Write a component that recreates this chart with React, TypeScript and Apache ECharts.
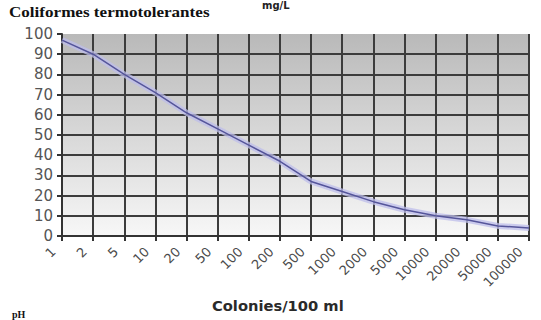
import React, { useEffect, useRef } from "react";
import * as echarts from "echarts";

const categories = ["1", "2", "5", "10", "20", "50", "100", "200", "500", "1000", "2000", "5000", "10000", "20000", "50000", "100000"];
const qualityValues = [97, 90, 80, 71, 61, 53, 45, 37, 27, 22, 17, 13, 10, 8, 5, 4];
const yTicks = [0, 10, 20, 30, 40, 50, 60, 70, 80, 90, 100];
const titleText = "Coliformes termotolerantes";
const unitText = "mg/L";
const xTitle = "Colonies/100 ml";
const nextTitle = "pH";

export default function App() {
  const ref = useRef<HTMLDivElement>(null);
  useEffect(() => {
    if (!ref.current) return;
    const chart = echarts.init(ref.current, null, { renderer: "svg" });
    const gridColor = "#3c3c3c";
    const splitColors = yTicks.map((v) => (v === 100 ? "rgba(0,0,0,0)" : gridColor));
    chart.setOption({
      animation: false,
      backgroundColor: "#ffffff",
      grid: {
        left: 62,
        right: 12,
        top: 34,
        bottom: 84,
        show: true,
        borderWidth: 0,
        backgroundColor: new echarts.graphic.LinearGradient(0, 0, 0, 1, [
          { offset: 0, color: "#b9b9b9" },
          { offset: 1, color: "#f7f7f7" },
        ]),
      },
      graphic: [
        {
          type: "text",
          x: 9,
          y: 5,
          scaleX: 1.22,
          style: {
            text: titleText,
            fontFamily: "Liberation Serif",
            fontWeight: "bold",
            fontSize: 14,
            fill: "#111",
          },
        },
        {
          type: "text",
          x: 262,
          y: 0,
          style: { text: unitText, fontFamily: "DejaVu Sans", fontWeight: "bold", fontSize: 10, fill: "#222" },
        },
        {
          type: "text",
          x: 212,
          y: 299,
          scaleX: 1.05,
          style: { text: xTitle, fontFamily: "DejaVu Sans", fontWeight: "bold", fontSize: 14, fill: "#2a2a2a" },
        },
        {
          type: "text",
          x: 12,
          y: 309,
          style: { text: nextTitle, fontFamily: "Liberation Serif", fontWeight: "bold", fontSize: 10, fill: "#111" },
        },
      ],
      xAxis: {
        type: "category",
        data: categories,
        boundaryGap: false,
        axisLine: { show: true, lineStyle: { color: "#333", width: 2 } },
        axisTick: { show: true, length: 5, alignWithLabel: true, lineStyle: { color: "#333", width: 2 } },
        axisLabel: {
          rotate: 45,
          interval: 0,
          margin: 5,
          padding: [0, 12, 0, 0],
          color: "#4a4a4a",
          fontFamily: "DejaVu Sans",
          fontSize: 13,
        },
        splitLine: { show: true, interval: 0, lineStyle: { color: gridColor, width: 2 } },
      },
      yAxis: {
        type: "value",
        min: 0,
        max: 100,
        interval: 10,
        axisLine: { show: true, lineStyle: { color: "#333", width: 2 } },
        axisTick: { show: true, length: 5, lineStyle: { color: "#333", width: 2 } },
        axisLabel: { color: "#555", fontFamily: "DejaVu Sans", fontSize: 15, margin: 9 },
        splitLine: { show: true, lineStyle: { color: splitColors, width: 2 } },
      },
      series: [
        {
          type: "line",
          data: qualityValues,
          showSymbol: false,
          silent: true,
          lineStyle: { color: "rgba(190,190,235,0.75)", width: 6 },
          z: 2,
        },
        {
          type: "line",
          data: qualityValues,
          showSymbol: false,
          lineStyle: { color: "#55559a", width: 1.5 },
          z: 3,
        },
      ],
    });
    return () => chart.dispose();
  }, []);
  return <div ref={ref} style={{ width: 541, height: 320, position: "absolute", left: 0, top: 0 }} />;
}
